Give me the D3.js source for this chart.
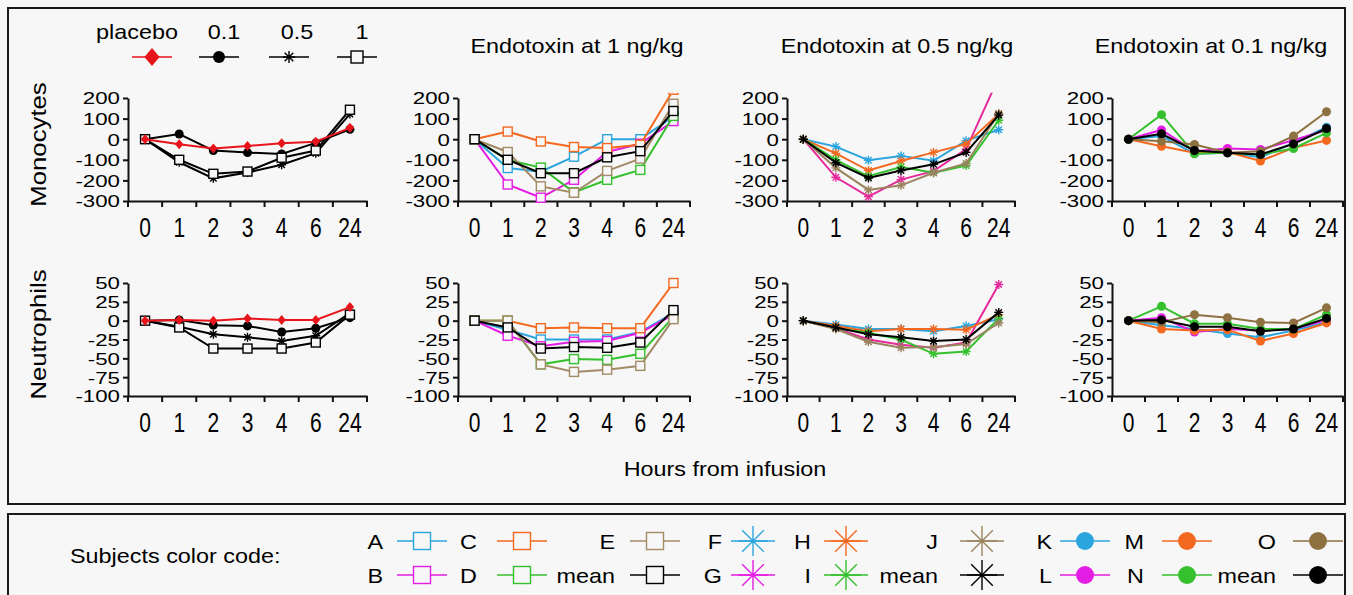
<!DOCTYPE html>
<html>
<head>
<meta charset="utf-8">
<script src="https://cdn.jsdelivr.net/npm/d3@7"></script>
<style>
  body { margin: 0; background: #f7f7f7; }
  svg { display: block; font-family: "Liberation Sans", Arial, Helvetica, sans-serif; }
  .box { fill: none; stroke: #1a1a1a; stroke-width: 2; }
  .axis path, .axis line { stroke: #111; stroke-width: 2; }
  .axis text { fill: #000; }
</style>
</head>
<body>
<div id="chart"></div>
<script>
// x categories (hours from infusion)
const hours = ["0", "1", "2", "3", "4", "6", "24"]
const monoTicks = [200, 100, 0, -100, -200, -300]
const neutTicks = [50, 25, 0, -25, -50, -75, -100]
const panelTitles = ["", "Endotoxin at 1 ng/kg", "Endotoxin at 0.5 ng/kg", "Endotoxin at 0.1 ng/kg"]
const rowNames = ["Monocytes", "Neutrophils"]

// dose groups: placebo, 0.1, 0.5, 1
const doseNames = ["placebo", "0.1", "0.5", "1"]
const doseColors = ["#e8141c", "#000000", "#000000", "#000000"]
const doseMarkers = ["diamond", "circle", "star", "square"]
const monoByDose = [
  [0, -25, -45, -33, -20, -12, 55],
  [0, 25, -55, -65, -72, -18, 48],
  [0, -112, -190, -162, -124, -68, 122],
  [0, -100, -168, -157, -90, -55, 143]
]
const neutByDose = [
  [0, 1, 0, 3, 1, 1, 18],
  [0, 1, -6, -7, -15, -10, 4],
  [0, -8, -18, -22, -27, -20, 10],
  [0, -9, -37, -37, -37, -29, 8]
]

// subjects, last entry of each group is the mean
const colors1ng = ["#2ba5de", "#e31de3", "#f4691f", "#35c02d", "#a38b66", "#000000"]
const colors05ng = ["#2ba5de", "#e62a9c", "#f4691f", "#35c02d", "#9a8460", "#000000"]
const colors01ng = ["#2ba5de", "#e31de3", "#f4691f", "#35c02d", "#8e7140", "#000000"]
const names1ng = ["A", "B", "C", "D", "E", "mean"]
const names05ng = ["F", "G", "H", "I", "J", "mean"]
const names01ng = ["K", "L", "M", "N", "O", "mean"]

const mono1ng = [
  [0, -140, -158, -85, 0, 0, 110],
  [0, -220, -284, -197, -62, -22, 88],
  [0, 37, -11, -38, -43, -27, 240],
  [0, -100, -138, -258, -197, -149, 113],
  [0, -62, -229, -260, -154, -94, 172],
  [0, -100, -165, -165, -88, -58, 137]
]
const neut1ng = [
  [0, -12, -25, -25, -25, -15, 10],
  [0, -20, -34, -28, -27, -16, 8],
  [0, 0, -10, -9, -10, -10, 50],
  [0, 0, -58, -51, -52, -44, 5],
  [0, 0, -58, -68, -65, -60, 2],
  [0, -9, -37, -35, -36, -29, 14]
]
const mono05ng = [
  [0, -36, -102, -81, -105, -7, 46],
  [0, -185, -279, -196, -155, -48, 300],
  [0, -69, -152, -106, -64, -23, 122],
  [0, -100, -180, -135, -163, -128, 92],
  [0, -139, -246, -224, -163, -118, 125],
  [0, -114, -188, -152, -122, -64, 117]
]
const neut05ng = [
  [0, -5, -11, -11, -14, -7, 2],
  [0, -10, -25, -32, -36, -29, 48],
  [0, -7, -14, -11, -11, -12, 8],
  [0, -10, -16, -25, -44, -41, 3],
  [0, -11, -28, -36, -35, -31, -3],
  [0, -9, -18, -22, -27, -25, 11]
]
const mono01ng = [
  [0, 15, -70, -66, -88, -18, 58],
  [0, 45, -58, -45, -50, -5, 45],
  [0, -34, -66, -62, -106, -42, -6],
  [0, 119, -71, -66, -74, -45, 31],
  [0, -10, -26, -66, -58, 15, 133],
  [0, 26, -55, -66, -74, -23, 52]
]
const neut01ng = [
  [0, -6, -11, -17, -22, -13, -2],
  [0, 4, -15, -11, -13, -11, 1],
  [0, -11, -13, -12, -27, -17, -3],
  [0, 19, -4, -4, -11, -11, 8],
  [0, -2, 8, 4, -2, -3, 17],
  [0, 1, -8, -8, -14, -11, 3]
]

const width = 1353
const height = 595
const bg = "#f7f7f7"
const sx = 1.17   // the source lettering is set a little wide

const svg = d3.select("#chart").append("svg")
  .attr("width", width)
  .attr("height", height)

svg.append("rect").attr("width", width).attr("height", height).attr("fill", bg)

// Frames
svg.append("rect").attr("class", "box")
  .attr("x", 8).attr("y", 8).attr("width", 1337).attr("height", 496)
svg.append("rect").attr("class", "box")
  .attr("x", 8).attr("y", 514).attr("width", 1337).attr("height", 100)

function label(x, y, str, size, anchor, rotate) {
  return svg.append("text")
    .attr("transform", `translate(${x},${y})` + (rotate ? ` rotate(${rotate})` : "") + ` scale(${sx},1)`)
    .attr("text-anchor", anchor || "start")
    .style("font-size", size + "px")
    .text(str)
}

// markers
function drawMarker(g, type, color, s) {
  if (type === "square") {
    g.append("rect")
      .attr("x", -s / 2).attr("y", -s / 2)
      .attr("width", s).attr("height", s)
      .attr("fill", bg).attr("stroke", color).attr("stroke-width", 1.4)
  } else if (type === "circle") {
    g.append("circle").attr("r", s / 2).attr("fill", color)
  } else if (type === "star") {
    let r = s / 2, k = r * 0.72
    g.append("path")
      .attr("d", `M${-r},0H${r}M0,${-r}V${r}M${-k},${-k}L${k},${k}M${-k},${k}L${k},${-k}`)
      .attr("stroke", color).attr("stroke-width", 1.4).attr("fill", "none")
  } else if (type === "diamond") {
    let w = s * 0.42
    g.append("path")
      .attr("d", `M0,${-s / 2}L${w},0L0,${s / 2}L${-w},0Z`)
      .attr("fill", color)
  }
}

// Panels
const colX = [128, 458, 787, 1112]
const colW = [239, 232, 228, 231]
const titleX = [0, 577, 897, 1211]
const rowTop = [98, 283]
const rowBottom = [201, 396]
const rowTicks = [monoTicks, neutTicks]
const rowClipMax = [225, 60]

const panelData = [
  [monoByDose, mono1ng, mono05ng, mono01ng],
  [neutByDose, neut1ng, neut05ng, neut01ng]
]
const panelColors = [doseColors, colors1ng, colors05ng, colors01ng]
const panelMarker = [null, "square", "star", "circle"]

let clipId = 0

rowNames.forEach((rowName, r) => {
  let ticks = rowTicks[r]
  let y = d3.scaleLinear()
    .domain([d3.min(ticks), d3.max(ticks)])
    .range([rowBottom[r], rowTop[r]])

  panelData[r].forEach((series, c) => {
    let x = d3.scaleBand()
      .domain(hours)
      .range([colX[c], colX[c] + colW[c]])

    let g = svg.append("g")

    // x axis: labels at band centres, tick marks at band edges
    let xAxis = g.append("g").attr("class", "axis")
      .attr("transform", `translate(0,${rowBottom[r]})`)
      .call(d3.axisBottom(x).tickSize(0).tickSizeOuter(0))
    xAxis.selectAll("text")
      .attr("y", 0).attr("dy", null)
      .attr("transform", "translate(0,36) scale(1,1.3)")
      .style("font-size", "21px")
    xAxis.selectAll(".edge").data(hours.concat(["end"])).enter()
      .append("line").attr("class", "edge")
      .attr("x1", d => d === "end" ? x.range()[1] : x(d))
      .attr("x2", d => d === "end" ? x.range()[1] : x(d))
      .attr("y1", 0).attr("y2", 6)

    // y axis
    let yAxis = g.append("g").attr("class", "axis")
      .attr("transform", `translate(${colX[c]},0)`)
      .call(d3.axisLeft(y).tickValues(ticks).tickFormat(d => String(d)).tickSize(5).tickSizeOuter(0))
    yAxis.selectAll("text")
      .attr("x", 0).attr("dy", "0.36em")
      .attr("transform", "translate(-8,0) scale(1.35,1)")
      .style("font-size", "16.5px")

    // clip so that off-scale values run out of the top
    let id = "clip" + (clipId++)
    svg.append("clipPath").attr("id", id)
      .append("rect")
      .attr("x", colX[c]).attr("y", y(rowClipMax[r]))
      .attr("width", colW[c] + 10)
      .attr("height", rowBottom[r] + 10 - y(rowClipMax[r]))

    let plot = g.append("g").attr("clip-path", `url(#${id})`)

    let line = d3.line()
      .x((d, i) => x(hours[i]) + x.bandwidth() / 2)
      .y(d => y(d))

    // draw order: subjects then mean; panel 1 draws placebo last
    let order = c === 0 ? [1, 2, 3, 0] : [0, 1, 2, 3, 4, 5]
    order.forEach(k => {
      let vals = series[k]
      let color = panelColors[c][k]
      let type = c === 0 ? doseMarkers[k] : panelMarker[c]
      plot.append("path")
        .attr("d", line(vals))
        .attr("fill", "none")
        .attr("stroke", color)
        .attr("stroke-width", 2)
      vals.forEach((v, i) => {
        let m = plot.append("g")
          .attr("transform", `translate(${x(hours[i]) + x.bandwidth() / 2},${y(v)})`)
        drawMarker(m, type, color, type === "diamond" ? 10 : 9)
      })
    })

    if (panelTitles[c] !== "" && r === 0) {
      label(titleX[c], 53, panelTitles[c], 20, "middle")
    }
  })

  label(46, (rowTop[r] + rowBottom[r]) / 2 - 5, rowName, 22, "middle", -90)
})

label(725, 476, "Hours from infusion", 20, "middle")

// Dose legend (top left)
const doseLabelX = [137, 224, 297, 362]
const doseSymX = [152, 219, 289, 357]
doseNames.forEach((name, i) => {
  label(doseLabelX[i], 39, name, 20, "middle")
  svg.append("line")
    .attr("x1", doseSymX[i] - 20).attr("x2", doseSymX[i] + 20)
    .attr("y1", 57).attr("y2", 57)
    .attr("stroke", doseColors[i]).attr("stroke-width", 1.6)
  let m = svg.append("g").attr("transform", `translate(${doseSymX[i]},57)`)
  drawMarker(m, doseMarkers[i], doseColors[i], doseMarkers[i] === "diamond" ? 18 : 12)
})

// Subjects legend (bottom)
label(70, 563, "Subjects color code:", 20, "start")

const legendGroups = [names1ng, names05ng, names01ng]
const legendColors = [colors1ng, ["#2ba5de", "#e31de3", "#f4691f", "#35c02d", "#9a8460", "#000000"], colors01ng]
const legendMarkers = ["square", "star", "circle"]
const legendLabelEnd = [[383, 477, 615], [722, 811, 938], [1052, 1144, 1276]]
const legendSymX = [[422, 522, 655], [753, 846, 982], [1085, 1187, 1318]]
const legendRowY = [541, 575]

legendGroups.forEach((names, gi) => {
  names.forEach((name, k) => {
    let col = Math.floor(k / 2)
    let row = k % 2
    let cy = legendRowY[row]
    let sx0 = legendSymX[gi][col]
    let color = legendColors[gi][k]
    label(legendLabelEnd[gi][col], cy + 8, name, 20, "end")
    let type = legendMarkers[gi]
    svg.append("line")
      .attr("x1", sx0 - (type === "star" ? 22 : 25)).attr("x2", sx0 + (type === "star" ? 22 : 25))
      .attr("y1", cy).attr("y2", cy)
      .attr("stroke", color).attr("stroke-width", 1.6)
    let m = svg.append("g").attr("transform", `translate(${sx0},${cy})`)
    drawMarker(m, type, color, type === "square" ? 17 : (type === "star" ? 30 : 18))
  })
})
</script>
</body>
</html>
